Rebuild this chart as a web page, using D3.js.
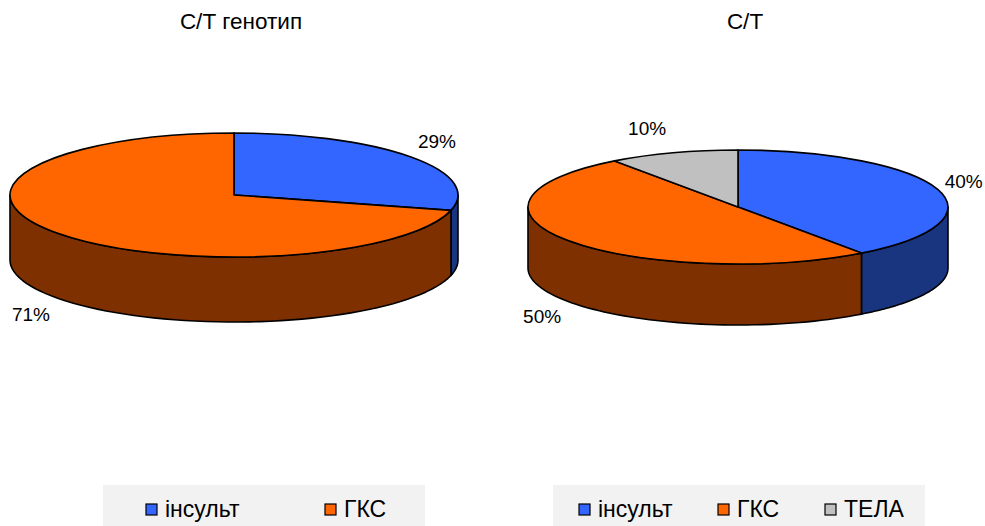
<!DOCTYPE html>
<html>
<head>
<meta charset="utf-8">
<script src="https://cdn.jsdelivr.net/npm/d3@7"></script>
<style>
  html, body { margin: 0; padding: 0; background: #ffffff; }
  svg { display: block; }
  text { font-family: "Liberation Sans", Arial, sans-serif; fill: #000; }
</style>
</head>
<body>
<svg id="chart" width="985" height="526"></svg>
<script>
// Outcome shares for the C/T genotype
const leftTitle = "С/Т генотип";
const leftCategories = ["інсульт", "ГКС"];
const leftValues = [29, 71];

const rightTitle = "С/Т";
const rightCategories = ["інсульт", "ГКС", "ТЕЛА"];
const rightValues = [40, 50, 10];

const topColors = {"інсульт": "#3366ff", "ГКС": "#ff6600", "ТЕЛА": "#c0c0c0"};
const sideColors = {"інсульт": "#1a3580", "ГКС": "#7f3000", "ТЕЛА": "#808080"};

const svg = d3.select("#chart");

function drawPie3D(cfg) {
  const {title, categories, values, cx, cy, rx, ry, depth, titleX} = cfg;
  const data = categories.map((c, i) => ({cat: c, value: values[i]}));
  const pie = d3.pie().sort(null).value(d => d.value).startAngle(0).endAngle(2 * Math.PI);
  const arcs = pie(data);

  const g = svg.append("g");

  g.append("text")
    .attr("x", titleX).attr("y", 29)
    .attr("text-anchor", "middle")
    .style("font-size", "22.5px")
    .text(title);

  // Point on the top ellipse for an angle measured clockwise from 12 o'clock
  const px = a => cx + rx * Math.sin(a);
  const py = a => cy - ry * Math.cos(a);

  // Front walls: only the part of each slice between 3 and 9 o'clock is visible
  const lo = Math.PI / 2, hi = 3 * Math.PI / 2;
  const walls = g.append("g");
  arcs.forEach(a => {
    const s = Math.max(a.startAngle, lo), e = Math.min(a.endAngle, hi);
    if (e <= s) return;
    const steps = d3.range(0, 61).map(i => s + (e - s) * i / 60);
    const p = d3.path();
    steps.forEach((t, i) => i ? p.lineTo(px(t), py(t)) : p.moveTo(px(t), py(t)));
    steps.slice().reverse().forEach(t => p.lineTo(px(t), py(t) + depth));
    p.closePath();
    walls.append("path")
      .attr("d", p.toString())
      .attr("fill", sideColors[a.data.cat])
      .attr("stroke", "#000")
      .attr("stroke-width", 1.6)
      .attr("stroke-linejoin", "round");
  });

  // Top face: circular arcs squashed into an ellipse
  const arc = d3.arc().innerRadius(0).outerRadius(rx);
  g.append("g")
    .attr("transform", `translate(${cx},${cy}) scale(1,${ry / rx})`)
    .selectAll("path")
    .data(arcs)
    .join("path")
    .attr("d", arc)
    .attr("fill", d => topColors[d.data.cat])
    .attr("stroke", "#000")
    .attr("stroke-width", 1.6)
    .attr("stroke-linejoin", "round")
    .attr("vector-effect", "non-scaling-stroke");

  // Percentage labels placed just outside the rim, beside each slice's midpoint
  const fmt = d3.format(".0%");
  const total = d3.sum(values);
  arcs.forEach(a => {
    const m = (a.startAngle + a.endAngle) / 2;
    const front = Math.cos(m) < 0;
    const t = g.append("text")
      .attr("text-anchor", "middle")
      .attr("dy", "0.35em")
      .style("font-size", "19px")
      .text(fmt(a.data.value / total));
    const w = t.node().getComputedTextLength();
    const x = px(m) + Math.sign(Math.sin(m)) * (w / 2 + 7);
    const y = py(m) + (front ? depth : 0) - 26 * Math.cos(m);
    t.attr("x", x).attr("y", y);
  });

  // Legend
  const lg = g.append("g");
  lg.append("rect")
    .attr("x", cfg.legendX).attr("y", 485)
    .attr("width", cfg.legendW).attr("height", 50)
    .attr("fill", "#f2f2f2");
  categories.forEach((c, i) => {
    const x0 = cfg.legendItems[i];
    lg.append("rect")
      .attr("x", x0).attr("y", 504)
      .attr("width", 11).attr("height", 11)
      .attr("fill", topColors[c])
      .attr("stroke", "#000").attr("stroke-width", 1.2);
    lg.append("text")
      .attr("x", x0 + 19).attr("y", 517)
      .style("font-size", "23px")
      .text(c);
  });
}

drawPie3D({
  title: leftTitle, categories: leftCategories, values: leftValues,
  cx: 234, cy: 195, rx: 224, ry: 62, depth: 65, titleX: 241,
  legendX: 103, legendW: 322, legendItems: [146, 325]
});

drawPie3D({
  title: rightTitle, categories: rightCategories, values: rightValues,
  cx: 738, cy: 207, rx: 210, ry: 57, depth: 61, titleX: 745,
  legendX: 553, legendW: 372, legendItems: [579, 718, 825]
});
</script>
</body>
</html>
